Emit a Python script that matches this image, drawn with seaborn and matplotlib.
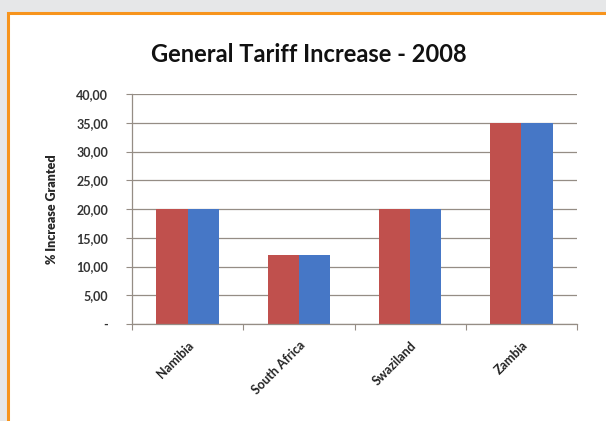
import matplotlib
matplotlib.use("Agg")
import matplotlib.pyplot as plt
import matplotlib.patches as mpatches
import pandas as pd
import seaborn as sns

countries = ["Namibia", "South Africa", "Swaziland", "Zambia"]
series_a = [20.0, 12.0, 20.0, 35.0]
series_b = [20.0, 12.0, 20.0, 35.0]
y_ticks = [0, 5, 10, 15, 20, 25, 30, 35, 40]
y_tick_labels = ["-", "5,00", "10,00", "15,00", "20,00", "25,00", "30,00", "35,00", "40,00"]

df = pd.DataFrame({
    "country": countries * 2,
    "value": series_a + series_b,
    "series": ["a"] * len(countries) + ["b"] * len(countries),
})

sns.set_style("white")
plt.rcParams["font.family"] = ["Lato", "DejaVu Sans"]

fig = plt.figure(figsize=(6.06, 4.21), dpi=100)
fig.patch.set_facecolor("#e6e7e8")
# white panel with orange frame
fig.patches.append(mpatches.Rectangle((8 / 606, -0.05), 1.0, 1 - 13 / 421 + 0.05,
                                      transform=fig.transFigure, facecolor="white",
                                      edgecolor="#f7941d", linewidth=2.2, zorder=-10))

ax = fig.add_axes([132 / 606, 1 - 324 / 421, 445 / 606, 230 / 421])
ax.set_zorder(5)
ax.set_facecolor("white")
sns.barplot(data=df, x="country", y="value", hue="series",
            palette=["#c0504d", "#4677c6"], width=0.56, gap=0,
            saturation=1, legend=False, linewidth=0, ax=ax)

ax.set_ylim(0, 40)
ax.set_xlim(-0.5, 3.5)
ax.set_yticks(y_ticks)
ax.set_yticklabels(y_tick_labels, fontsize=9, fontweight="bold", color="#333333")
ax.yaxis.grid(True, color="#958d85", linewidth=0.9)
ax.set_axisbelow(True)
for s in ["top", "right"]:
    ax.spines[s].set_visible(False)
for s in ["left", "bottom"]:
    ax.spines[s].set_color("#958d85")
    ax.spines[s].set_linewidth(0.9)
ax.tick_params(axis="y", which="major", left=True, length=4, width=0.8, color="#958d85", pad=13)

ax.set_xticks(range(len(countries)))
ax.set_xticklabels(countries, rotation=45, ha="right", rotation_mode="anchor",
                   fontsize=9, fontweight="bold", color="#222222")
ax.tick_params(axis="x", which="major", length=0, pad=11)
ax.set_xticks([-0.5, 0.5, 1.5, 2.5, 3.5], minor=True)
ax.tick_params(axis="x", which="minor", bottom=True, length=4, width=0.8, color="#958d85")

ax.set_xlabel("")
ax.set_ylabel("% Increase Granted", fontsize=9, fontweight="heavy", labelpad=13)

fig.text(0.51, 1 - 55 / 421, "General Tariff Increase - 2008", ha="center", va="center",
         fontsize=17, fontweight="bold", color="#111111", zorder=6)

fig.savefig("out.png", dpi=100, facecolor=fig.get_facecolor())
